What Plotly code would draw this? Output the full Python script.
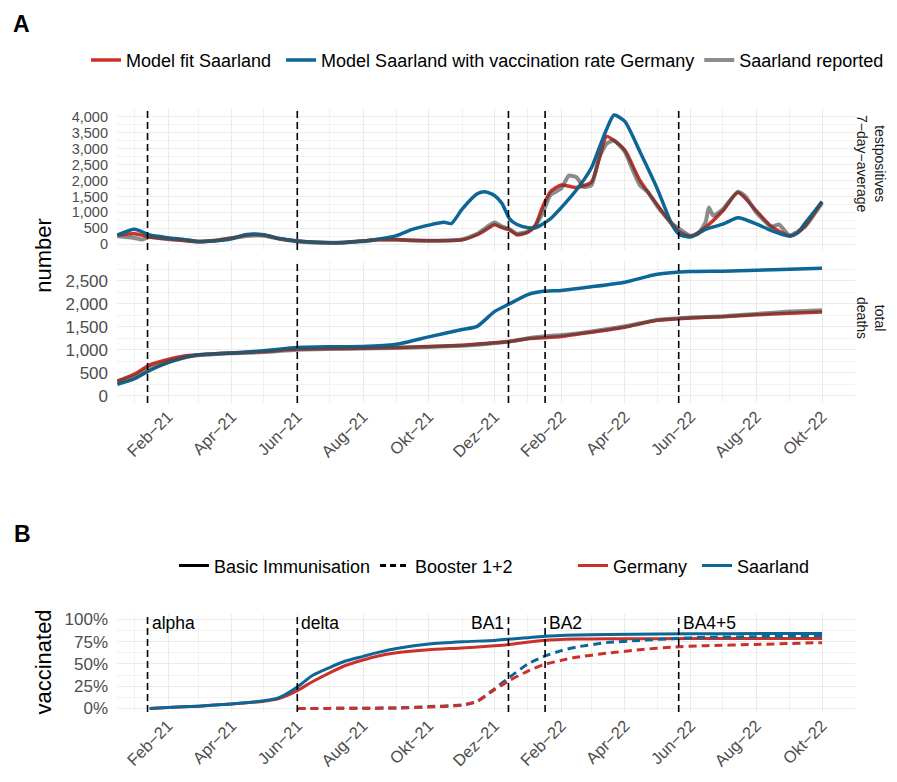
import plotly.graph_objects as go

# ---------------- data ----------------
case_dates = ["2020-12-16", "2021-01-01", "2021-01-15", "2021-02-01", "2021-02-15", "2021-03-01",
              "2021-03-15", "2021-04-01", "2021-04-15", "2021-05-01", "2021-05-15", "2021-06-01",
              "2021-06-15", "2021-07-01", "2021-07-15", "2021-08-01", "2021-08-15", "2021-09-01",
              "2021-09-15", "2021-10-01", "2021-10-15", "2021-10-22", "2021-11-01", "2021-11-15",
              "2021-11-22", "2021-12-01", "2021-12-08", "2021-12-15", "2021-12-22", "2022-01-01",
              "2022-01-08", "2022-01-15", "2022-01-22", "2022-02-01", "2022-02-15", "2022-03-01",
              "2022-03-08", "2022-03-15", "2022-03-22", "2022-04-01", "2022-04-15", "2022-05-01",
              "2022-05-15", "2022-05-22", "2022-06-01", "2022-06-15", "2022-07-01", "2022-07-15",
              "2022-08-01", "2022-08-15", "2022-09-01", "2022-09-08", "2022-09-15", "2022-10-01"]
cases_fit = [290, 330, 230, 170, 120, 80, 110, 200, 290, 290, 180, 100,
             65, 50, 60, 100, 150, 140, 125, 115, 115, 120, 140, 300,
             430, 610, 520, 450, 300, 380, 600, 1200, 1650, 1860, 1780, 1950,
             2650, 3380, 3250, 2950, 2000, 1240, 620, 380, 250, 540, 1050, 1620,
             1050, 560, 260, 350, 560, 1340]
cases_vacc_de = [290, 470, 290, 205, 150, 90, 100, 170, 310, 300, 180, 100,
                 70, 50, 60, 100, 160, 270, 460, 600, 690, 650, 1100, 1580,
                 1650, 1530, 1280, 800, 620, 520, 515, 640, 800, 1150, 1700, 2400,
                 3000, 3600, 4050, 3850, 2900, 1750, 600, 300, 230, 470, 630, 830,
                 640, 430, 260, 350, 650, 1330]

rep_dates = ["2020-12-16", "2020-12-24", "2021-01-01", "2021-01-08", "2021-01-15", "2021-01-22",
             "2021-02-01", "2021-02-15", "2021-03-01", "2021-03-15", "2021-04-01", "2021-04-15",
             "2021-05-01", "2021-05-15", "2021-06-01", "2021-06-15", "2021-07-01", "2021-07-15",
             "2021-08-01", "2021-08-15", "2021-09-01", "2021-09-15", "2021-10-01", "2021-10-15",
             "2021-11-01", "2021-11-15", "2021-12-01", "2021-12-08", "2021-12-15", "2021-12-22",
             "2022-01-01", "2022-01-08", "2022-01-15", "2022-01-22", "2022-02-01", "2022-02-08",
             "2022-02-15", "2022-02-22", "2022-03-01", "2022-03-08", "2022-03-15", "2022-03-22",
             "2022-04-01", "2022-04-08", "2022-04-15", "2022-04-22", "2022-05-01", "2022-05-08",
             "2022-05-15", "2022-06-01", "2022-06-08", "2022-06-15", "2022-06-18", "2022-06-22",
             "2022-07-01", "2022-07-15", "2022-07-22", "2022-08-01", "2022-08-15", "2022-08-22",
             "2022-09-01", "2022-09-15", "2022-10-01"]
cases_reported = [250, 230, 200, 150, 230, 200,
                  160, 140, 85, 110, 190, 260,
                  270, 170, 90, 60, 45, 60,
                  95, 140, 150, 120, 110, 120,
                  150, 330, 680, 560, 470, 330,
                  400, 580, 1000, 1550, 1750, 2150,
                  2100, 1800, 1850, 2700, 3150, 3250,
                  2900, 2350, 1850, 1650, 1200, 900,
                  640, 270, 330, 700, 1150, 900,
                  1100, 1650, 1500, 1000, 550, 620,
                  280, 550, 1300]

death_dates = ["2020-12-16", "2021-01-01", "2021-01-15", "2021-02-01", "2021-02-15", "2021-03-01",
               "2021-04-01", "2021-05-01", "2021-06-01", "2021-07-01", "2021-08-01", "2021-09-01",
               "2021-10-01", "2021-11-01", "2021-11-15", "2021-12-01", "2021-12-15", "2022-01-01",
               "2022-01-15", "2022-02-01", "2022-03-01", "2022-04-01", "2022-05-01", "2022-06-01",
               "2022-07-01", "2022-08-01", "2022-09-01", "2022-10-01"]
deaths_fit = [320, 470, 670, 790, 860, 890, 930, 960, 1015, 1025, 1035, 1050,
              1070, 1100, 1125, 1150, 1180, 1240, 1260, 1290, 1380, 1490, 1640, 1690,
              1720, 1760, 1795, 1820]
deaths_vacc_de = [250, 370, 550, 720, 820, 890, 930, 980, 1050, 1065, 1070, 1120,
                  1280, 1440, 1510, 1830, 2000, 2200, 2270, 2290, 2370, 2470, 2640, 2700,
                  2710, 2730, 2750, 2770]
deaths_reported = [300, 420, 600, 740, 830, 880, 925, 950, 1000, 1015, 1025, 1040,
                   1060, 1090, 1110, 1145, 1180, 1250, 1290, 1320, 1400, 1510, 1650, 1700,
                   1730, 1780, 1830, 1860]

vacc_dates = ["2021-01-15", "2021-02-01", "2021-03-01", "2021-04-01", "2021-05-01", "2021-05-15",
              "2021-06-01", "2021-06-15", "2021-07-01", "2021-07-15", "2021-08-01", "2021-08-15",
              "2021-09-01", "2021-10-01", "2021-11-01", "2021-12-01", "2021-12-15", "2022-01-15",
              "2022-02-15", "2022-03-15", "2022-05-01", "2022-07-01", "2022-10-01"]
basic_saarland = [0.0, 0.01, 0.025, 0.05, 0.085, 0.12, 0.24, 0.37, 0.46, 0.53, 0.585, 0.63,
                  0.675, 0.725, 0.75, 0.765, 0.78, 0.81, 0.825, 0.832, 0.838, 0.841, 0.844]
basic_germany = [0.0, 0.01, 0.025, 0.05, 0.08, 0.11, 0.20, 0.30, 0.40, 0.48, 0.545, 0.59,
                 0.625, 0.66, 0.68, 0.705, 0.72, 0.765, 0.78, 0.783, 0.785, 0.786, 0.787]

booster_dates = ["2021-06-01", "2021-07-01", "2021-08-01", "2021-09-01", "2021-10-01", "2021-11-01",
                 "2021-11-15", "2021-12-01", "2021-12-15", "2022-01-01", "2022-01-15", "2022-02-01",
                 "2022-02-15", "2022-03-15", "2022-04-15", "2022-05-15", "2022-06-15", "2022-08-01",
                 "2022-10-01"]
booster_saarland = [0.0, 0.0, 0.002, 0.005, 0.02, 0.04, 0.08, 0.22, 0.35, 0.50, 0.58, 0.65,
                    0.69, 0.74, 0.765, 0.785, 0.80, 0.807, 0.815]
booster_germany = [0.0, 0.0, 0.002, 0.004, 0.015, 0.035, 0.08, 0.21, 0.315, 0.42, 0.49, 0.54,
                   0.575, 0.62, 0.66, 0.69, 0.705, 0.72, 0.74]

variant_names = ["alpha", "delta", "BA1", "BA2", "BA4+5"]
variant_dates = ["2021-01-13", "2021-06-01", "2021-12-14", "2022-01-17", "2022-05-21"]
variant_side = ["right", "right", "left", "right", "right"]

x_tick_dates = ["2021-02-01", "2021-04-01", "2021-06-01", "2021-08-01", "2021-10-01", "2021-12-01",
                "2022-02-01", "2022-04-01", "2022-06-01", "2022-08-01", "2022-10-01"]
x_tick_labels = ["Feb\u221221", "Apr\u221221", "Jun\u221221", "Aug\u221221", "Okt\u221221", "Dez\u221221",
                 "Feb\u221222", "Apr\u221222", "Jun\u221222", "Aug\u221222", "Okt\u221222"]
cases_ticks = [0, 500, 1000, 1500, 2000, 2500, 3000, 3500, 4000]
cases_tick_labels = ["0", "500", "1,000", "1,500", "2,000", "2,500", "3,000", "3,500", "4,000"]
deaths_ticks = [0, 500, 1000, 1500, 2000, 2500]
deaths_tick_labels = ["0", "500", "1,000", "1,500", "2,000", "2,500"]
vacc_ticks = [0, 0.25, 0.5, 0.75, 1.0]
vacc_tick_labels = ["0%", "25%", "50%", "75%", "100%"]

# ---------------- styling ----------------
W, H = 897, 782
OFF = 8  # page body margin in the browser
FONT = "Liberation Sans, Arial, Helvetica, sans-serif"
RED = "#CC3129"
BLUE = "#0C6696"
GRAY = "rgba(70,70,70,0.62)"
GRID = "#EBEBEB"
MINOR = "#F2F2F2"
TICKC = "#4D4D4D"
NB = "\u00a0"  # small extra spacing between legend entries


def px(p):
    return (p - OFF) / W


def py(p):
    return 1 - (p - OFF) / H


fig = go.Figure()

# Panel A, cases
fig.add_trace(go.Scatter(x=case_dates, y=cases_fit, name="Model fit Saarland" + NB, legendgroup="fit",
                         line=dict(color=RED, width=3.5, shape="spline", smoothing=0.6),
                         mode="lines", xaxis="x", yaxis="y", legend="legend"))
fig.add_trace(go.Scatter(x=case_dates, y=cases_vacc_de, name="Model Saarland with vaccination rate Germany",
                         legendgroup="vde", line=dict(color=BLUE, width=3.5, shape="spline", smoothing=0.6),
                         mode="lines", xaxis="x", yaxis="y", legend="legend"))
fig.add_trace(go.Scatter(x=rep_dates, y=cases_reported, name="Saarland reported", legendgroup="rep",
                         line=dict(color=GRAY, width=4, shape="spline", smoothing=0.5),
                         mode="lines", xaxis="x", yaxis="y", legend="legend"))
# Panel A, deaths
fig.add_trace(go.Scatter(x=death_dates, y=deaths_fit, legendgroup="fit", showlegend=False,
                         line=dict(color=RED, width=3.5, shape="spline", smoothing=0.6),
                         mode="lines", xaxis="x2", yaxis="y2"))
fig.add_trace(go.Scatter(x=death_dates, y=deaths_vacc_de, legendgroup="vde", showlegend=False,
                         line=dict(color=BLUE, width=3.5, shape="spline", smoothing=0.6),
                         mode="lines", xaxis="x2", yaxis="y2"))
fig.add_trace(go.Scatter(x=death_dates, y=deaths_reported, legendgroup="rep", showlegend=False,
                         line=dict(color=GRAY, width=4, shape="spline", smoothing=0.6),
                         mode="lines", xaxis="x2", yaxis="y2"))

# Panel B
for yv, col, dash, xs in [(basic_germany, RED, "solid", vacc_dates),
                          (basic_saarland, BLUE, "solid", vacc_dates),
                          (booster_saarland, BLUE, "8px,5px", booster_dates),
                          (booster_germany, RED, "8px,5px", booster_dates)]:
    fig.add_trace(go.Scatter(x=xs, y=yv, showlegend=False, mode="lines",
                             line=dict(color=col, width=3, dash=dash, shape="spline", smoothing=0.6),
                             xaxis="x3", yaxis="y3"))

# legend-only traces for panel B
for nm, dash in [("Basic Immunisation", "solid"), ("Booster 1+2", "6px,4px")]:
    fig.add_trace(go.Scatter(x=[None], y=[None], name=nm, mode="lines",
                             line=dict(color="black", width=3, dash=dash),
                             xaxis="x3", yaxis="y3", legend="legend2"))
for nm, col in [("Germany" + NB, RED), ("Saarland", BLUE)]:
    fig.add_trace(go.Scatter(x=[None], y=[None], name=nm, mode="lines",
                             line=dict(color=col, width=3),
                             xaxis="x3", yaxis="y3", legend="legend3"))

# vertical variant lines
shapes = []
for d in variant_dates:
    for xa, ya in [("x", "y"), ("x2", "y2"), ("x3", "y3")]:
        shapes.append(dict(type="line", xref=xa, yref=ya + " domain", x0=d, x1=d, y0=0, y1=1,
                           line=dict(color="black", width=1.6, dash="7px,4px"), layer="above"))

annotations = []
for nm, d, side in zip(variant_names, variant_dates, variant_side):
    annotations.append(dict(x=d, y=0.965, xref="x3", yref="y3", text=nm, showarrow=False,
                            xanchor="left" if side == "right" else "right", yanchor="middle",
                            xshift=2 if side == "right" else -2,
                            font=dict(family=FONT, size=17.5, color="black")))
annotations += [
    dict(x=px(11), y=py(20), xref="paper", yref="paper", text="<b>A</b>", showarrow=False,
         xanchor="left", yanchor="middle", font=dict(family=FONT, size=23, color="black")),
    dict(x=px(12), y=py(537), xref="paper", yref="paper", text="<b>B</b>", showarrow=False,
         xanchor="left", yanchor="middle", font=dict(family=FONT, size=23, color="black")),
    dict(x=px(44), y=py(255), xref="paper", yref="paper", text="number", showarrow=False,
         textangle=-90, xanchor="center", yanchor="middle", font=dict(family=FONT, size=22, color="black")),
    dict(x=px(44), y=py(667), xref="paper", yref="paper", text="vaccinated", showarrow=False,
         textangle=-90, xanchor="center", yanchor="middle", font=dict(family=FONT, size=22, color="black")),
    dict(x=px(871), y=py(162), xref="paper", yref="paper", text="testpositives<br>7\u2212day\u2212average",
         showarrow=False, textangle=90, xanchor="center", yanchor="middle",
         font=dict(family=FONT, size=14, color="#1A1A1A")),
    dict(x=px(871), y=py(318), xref="paper", yref="paper", text="total<br>deaths",
         showarrow=False, textangle=90, xanchor="center", yanchor="middle",
         font=dict(family=FONT, size=14, color="#1A1A1A")),
]

# x range: 2020-12-15 16:00 .. 2022-10-31 15:00 maps to the panel edges (117 px .. 855 px)
x_range = ["2020-12-15 16:00", "2022-10-31 15:00"]
xdom = [px(117), px(855)]


def xaxis(anchor, labels):
    return dict(domain=xdom, range=x_range, anchor=anchor, type="date",
                tickmode="array", tickvals=x_tick_dates, ticktext=x_tick_labels,
                showticklabels=labels, tickangle=-45, ticks="",
                tickfont=dict(family=FONT, size=16.5, color=TICKC),
                showgrid=True, gridcolor=GRID, gridwidth=1.3, zeroline=False, showline=False,
                minor=dict(tick0="2021-01-01", dtick="M1", showgrid=True, gridcolor=MINOR, gridwidth=0.8))


def yaxis(dom, rng, tv, tt, minor_dtick, fsize):
    return dict(domain=dom, range=rng, tickmode="array", tickvals=tv, ticktext=tt, ticks="",
                tickfont=dict(family=FONT, size=fsize, color=TICKC), ticklabelstandoff=8,
                showgrid=True, gridcolor=GRID, gridwidth=1.3, zeroline=False, showline=False,
                minor=dict(tick0=0, dtick=minor_dtick, showgrid=True, gridcolor=MINOR, gridwidth=0.8))


legend_font = dict(family=FONT, size=18, color="black")
fig.update_layout(
    width=W, height=H,
    margin=dict(l=0, r=0, t=0, b=0),
    paper_bgcolor="white", plot_bgcolor="white",
    font=dict(family=FONT),
    xaxis=xaxis("y", False),
    xaxis2=xaxis("y2", True),
    xaxis3=xaxis("y3", True),
    yaxis=yaxis([py(249), py(105)], [-176, 4278], cases_ticks, cases_tick_labels, 250, 14.5),
    yaxis2=yaxis([py(404), py(260)], [-156, 2935], deaths_ticks, deaths_tick_labels, 250, 17),
    yaxis3=yaxis([py(717), py(618)], [-0.04, 1.06], vacc_ticks, vacc_tick_labels, 0.125, 17),
    legend=dict(orientation="h", x=px(86), y=py(57), xanchor="left", yanchor="middle",
                font=legend_font, bgcolor="rgba(0,0,0,0)", traceorder="normal"),
    legend2=dict(orientation="h", x=px(174), y=py(569), xanchor="left", yanchor="middle",
                 font=legend_font, bgcolor="rgba(0,0,0,0)"),
    legend3=dict(orientation="h", x=px(573), y=py(569), xanchor="left", yanchor="middle",
                 font=legend_font, bgcolor="rgba(0,0,0,0)"),
    shapes=shapes,
    annotations=annotations,
)

fig.write_html("out.html")
